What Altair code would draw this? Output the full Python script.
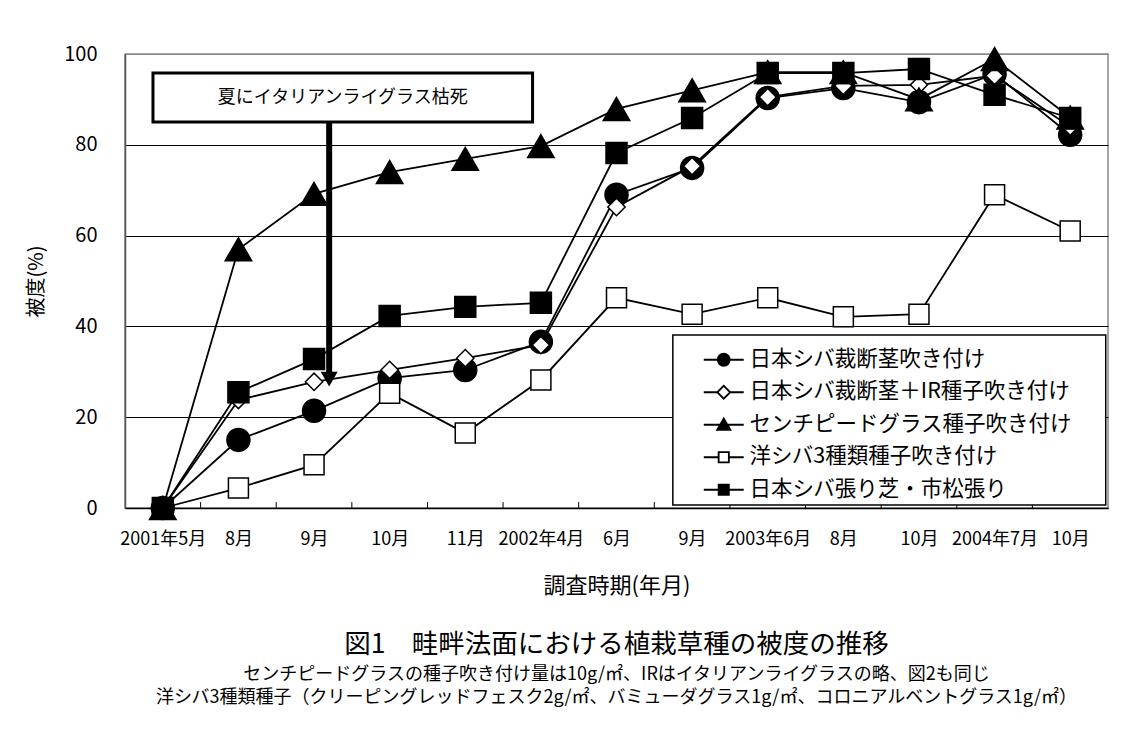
import altair as alt
import pandas as pd

# ---- data ----
labels = ["2001年5月", "8月", "9月", "10月", "11月", "2002年4月", "6月",
          "9月", "2003年6月", "8月", "10月", "2004年7月", "10月"]

names = ["日本シバ裁断茎吹き付け", "日本シバ裁断茎＋IR種子吹き付け",
         "センチピードグラス種子吹き付け", "洋シバ3種類種子吹き付け",
         "日本シバ張り芝・市松張り"]

s1 = [0, 15, 21.4, 28.6, 30.4, 36.6, 69, 74.9, 90.3, 92.5, 89.4, 95.6, 82.2]
s2 = [0, 23.8, 27.8, 30.4, 33, 35.9, 66.3, 75.3, 90.5, 93, 93.2, 95.2, 84]
s3 = [0, 57, 69.2, 74, 76.9, 79.7, 87.9, 92, 96, 96, 90, 98.9, 86]
s4 = [0, 4.4, 9.5, 25.3, 16.5, 28.2, 46.3, 42.7, 46.3, 42.1, 42.7, 69, 61]
s5 = [0, 25.5, 32.8, 42.3, 44.3, 45.2, 78.2, 85.9, 95.8, 95.8, 96.7, 91, 85.9]
series_values = [s1, s2, s3, s4, s5]

y_ticks = [0, 20, 40, 60, 80, 100]

note_text = "夏にイタリアンライグラス枯死"
note_box = {"x": -0.13, "x2": 4.89, "y": 85, "y2": 95.8}
note_arrow = {"x": 2.2, "y": 85, "y2": 29.5, "tip": 28.4}
legend_box = {"x": 6.745, "x2": 12.47, "y": 0.66, "y2": 38.1}

title_text = "図1　畦畔法面における植栽草種の被度の推移"
subtitle_lines = [
    "センチピードグラスの種子吹き付け量は10g/㎡、IRはイタリアンライグラスの略、図2も同じ",
    "洋シバ3種類種子（クリーピングレッドフェスク2g/㎡、バミューダグラス1g/㎡、コロニアルベントグラス1g/㎡）",
]

# ---- styles ----
FONT = "Noto Sans CJK JP"
W, H = 983, 454
step = W / len(labels)
marker_shapes = ["circle", "diamond", "triangle-up", "square", "square"]
marker_fills = ["black", "white", "black", "white", "black"]
marker_sizes = [530, 300, 700, 400, 440]

legend_paths = [
    "M-3.33,0H3.33M-1,0A1,1,0,1,0,1,0A1,1,0,1,0,-1,0Z",
    "M-3.33,0H-1.08M1.08,0H3.33M-1.08,0L0,-1.08L1.08,0L0,1.08Z",
    "M-3.33,0H3.33M0,-1.05L1.1,0.85L-1.1,0.85Z",
    "M-3.33,0H-0.85M0.85,0H3.33M-0.85,-0.85H0.85V0.85H-0.85Z",
    "M-3.33,0H3.33M-0.85,-0.85H0.85V0.85H-0.85Z",
]

rows = []
for name, vals in zip(names, series_values):
    for i, v in enumerate(vals):
        rows.append({"idx": i, "value": v, "series": name})
df = pd.DataFrame(rows)

label_expr = "[" + ",".join("'" + l + "'" for l in labels) + "][round(datum.value + 0.5)]"

X = alt.X("idx:Q",
          scale=alt.Scale(domain=[-0.5, len(labels) - 0.5], nice=False, zero=False),
          axis=alt.Axis(values=[i - 0.5 for i in range(len(labels))],
                        labelExpr=label_expr, tickOffset=step / 2, labelFlush=False,
                        labelOverlap=False, ticks=False, grid=False,
                        labelPadding=22, labelFontSize=18,
                        domainColor="black", domainWidth=1.5,
                        title="調査時期(年月)", titleFontSize=22,
                        titleFontWeight="normal", titlePadding=27))
Y = alt.Y("value:Q",
          scale=alt.Scale(domain=[0, 100], nice=False),
          axis=alt.Axis(values=y_ticks, grid=True,
                        gridColor={"condition": {"test": "datum.value == 100", "value": "#888888"},
                                   "value": "black"},
                        gridWidth=1, ticks=False, tickSize=0,
                        domainColor="#555555", domainWidth=1.5,
                        labelPadding=28, labelFontSize=20,
                        title="被度(%)", titleFontSize=20, titleFontWeight="normal",
                        titlePadding=17))

layers = []
for name, shp, fil, sz in zip(names, marker_shapes, marker_fills, marker_sizes):
    base = alt.Chart(df).transform_filter(alt.datum.series == name)
    layers.append(base.mark_line(color="black", strokeWidth=1.8).encode(x=X, y=Y))
    layers.append(base.mark_point(shape=shp, filled=True, fill=fil, stroke="black",
                                  strokeWidth=1.5, size=sz, opacity=1).encode(x=X, y=Y))

# inward ticks at category boundaries
tick_df = pd.DataFrame({"b": [i + 0.5 for i in range(len(labels) - 1)]})
ticks = alt.Chart(tick_df).mark_rule(color="black", strokeWidth=1).encode(
    x="b:Q", y=alt.datum(0), y2=alt.datum(1.3))

# legend frame
lbox = alt.Chart(pd.DataFrame([legend_box])).mark_rect(
    fill="white", stroke="black", strokeWidth=1.5).encode(
    x="x:Q", x2="x2:Q", y="y:Q", y2="y2:Q")

# legend-only layer
leg = alt.Legend(title=None, orient="none", legendX=547, legendY=280,
                 padding=15, strokeColor="transparent", fillColor="transparent",
                 symbolSize=144, symbolOffset=26, labelOffset=15,
                 symbolStrokeWidth=1.8, symbolStrokeColor="black",
                 labelFont=FONT, labelFontSize=21.5, labelLimit=700,
                 rowPadding=9.5)
legend_layer = alt.Chart(df).transform_filter("false").mark_point(
    filled=False, strokeWidth=1.8, opacity=1).encode(
    shape=alt.Shape("series:N", scale=alt.Scale(domain=names, range=legend_paths), legend=leg),
    fill=alt.Fill("series:N", scale=alt.Scale(domain=names, range=marker_fills), legend=leg),
    stroke=alt.Stroke("series:N", scale=alt.Scale(domain=names, range=["black"] * len(names)),
                      legend=leg),
)

# annotation
box_df = pd.DataFrame([note_box])
box = alt.Chart(box_df).mark_rect(fill="white", stroke="black", strokeWidth=3).encode(
    x="x:Q", x2="x2:Q", y="y:Q", y2="y2:Q")
txt_df = pd.DataFrame([{"x": (note_box["x"] + note_box["x2"]) / 2,
                        "y": (note_box["y"] + note_box["y2"]) / 2, "t": note_text}])
txt = alt.Chart(txt_df).mark_text(font=FONT, fontSize=18, color="black").encode(
    x="x:Q", y="y:Q", text="t:N")
arr_df = pd.DataFrame([note_arrow])
arrow = alt.Chart(arr_df).mark_rule(color="black", strokeWidth=6).encode(
    x="x:Q", y="y:Q", y2="y2:Q")
head = alt.Chart(arr_df).mark_point(shape="triangle-down", filled=True, color="black",
                                    size=289, opacity=1).encode(x="x:Q", y="tip:Q")

chart = alt.layer(ticks, *layers, lbox, box, txt, arrow, head, legend_layer).properties(
    width=W, height=H,
    padding={"left": 18, "top": 36, "right": 10, "bottom": 5},
    title=alt.TitleParams(text=title_text, subtitle=subtitle_lines, orient="bottom",
                          anchor="middle", frame="group", font=FONT, fontSize=26.5,
                          fontWeight="normal", subtitleFont=FONT, subtitleFontSize=18,
                          subtitleColor="black", subtitlePadding=7,
                          subtitleLineHeight=23.5, offset=36, color="black"),
).configure(font=FONT).configure_axis(
    labelFont=FONT, titleFont=FONT, labelColor="black", titleColor="black"
).configure_view(stroke="#888888", strokeWidth=1.5)

chart.save("out.html", embed_options={"renderer": "svg", "actions": False})
